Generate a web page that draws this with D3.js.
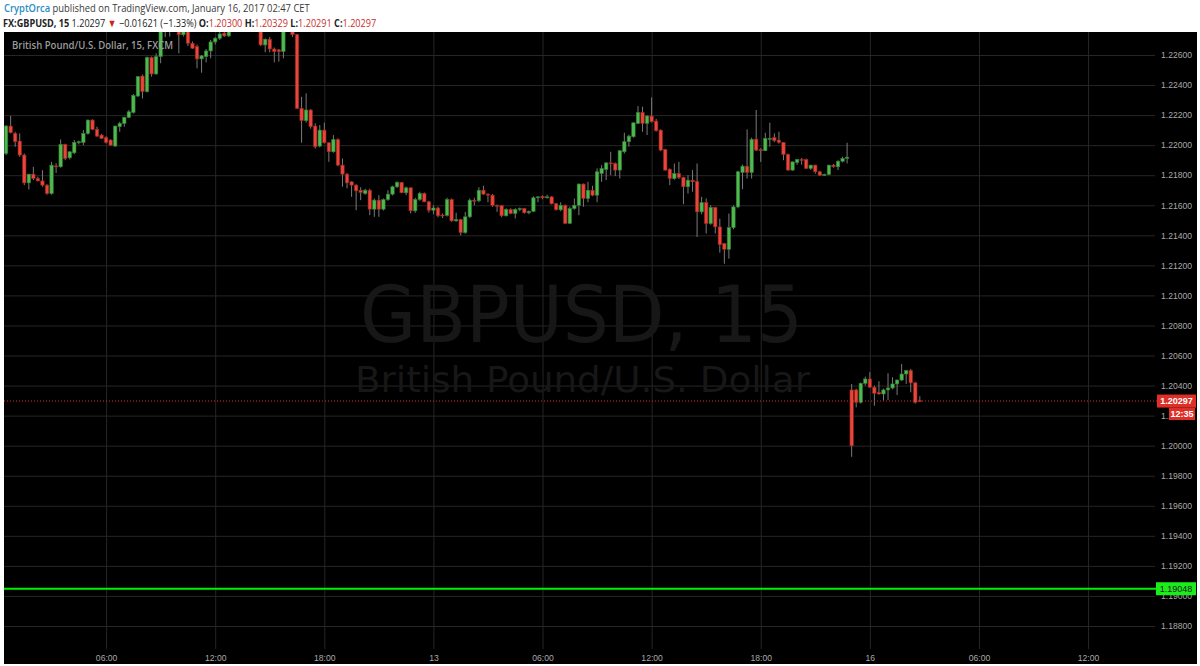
<!DOCTYPE html>
<html>
<head>
<meta charset="utf-8">
<script src="https://cdn.jsdelivr.net/npm/d3@7"></script>
<style>
    body { margin: 0; background: #fff; }
    svg { display: block; }
</style>
</head>
<body>
<svg id="chart" width="1200" height="666"></svg>
<script>
//Datos: velas de 15 minutos [open, high, low, close]
//Índice de barra: 0 = 12 ene 00:00, 96 = 13 ene 00:00, 192 = 16 ene 00:00 (fin de semana omitido)
const startJan12 = 2, startJan13 = 96, startJan16 = 188;

const barsJan12 = [
    [1.21945,1.22134,1.21934,1.22127],[1.22127,1.22194,1.22078,1.22083],[1.22078,1.22089,1.21989,1.22023],
    [1.22027,1.22078,1.21922,1.21934],[1.21934,1.21945,1.21734,1.21749],[1.21749,1.21807,1.21705,1.21807],
    [1.21807,1.21856,1.21767,1.21778],[1.21778,1.21790,1.21760,1.21762],[1.21762,1.21834,1.21723,1.21734],
    [1.21734,1.21740,1.21670,1.21678],[1.21678,1.21889,1.21670,1.21867],[1.21862,1.21880,1.21815,1.21860],
    [1.21856,1.22038,1.21850,1.22005],[1.22005,1.22010,1.21900,1.21911],[1.21916,1.21960,1.21905,1.21956],
    [1.21949,1.22034,1.21940,1.22018],[1.22018,1.22030,1.22005,1.22023],[1.22018,1.22100,1.22000,1.22078],
    [1.22078,1.22170,1.22070,1.22167],[1.22167,1.22172,1.22100,1.22105],[1.22105,1.22123,1.22056,1.22060],
    [1.22067,1.22075,1.22040,1.22045],[1.22051,1.22060,1.22010,1.22018],[1.22034,1.22040,1.21995,1.22000],
    [1.21994,1.22130,1.21990,1.22127],[1.22123,1.22156,1.22089,1.22145],[1.22145,1.22190,1.22123,1.22185],
    [1.22185,1.22234,1.22180,1.22222],[1.22218,1.22340,1.22210,1.22331],[1.22327,1.22460,1.22320,1.22456],
    [1.22460,1.22470,1.22311,1.22356],[1.22356,1.22590,1.22350,1.22583],[1.22583,1.22590,1.22456,1.22474],
    [1.22474,1.22611,1.22470,1.22589],[1.22589,1.22800,1.22545,1.22780],[1.22780,1.22850,1.22720,1.22820],
    [1.22820,1.22880,1.22723,1.22850],[1.22850,1.22900,1.22760,1.22830],[1.22830,1.22850,1.22611,1.22735],
    [1.22735,1.22780,1.22723,1.22770],[1.22770,1.22800,1.22660,1.22678],[1.22678,1.22690,1.22640,1.22645],
    [1.22656,1.22670,1.22511,1.22574],[1.22574,1.22600,1.22482,1.22594],[1.22589,1.22640,1.22551,1.22627],
    [1.22627,1.22700,1.22578,1.22687],[1.22687,1.22720,1.22670,1.22711],[1.22711,1.22760,1.22700,1.22740],
    [1.22745,1.22770,1.22720,1.22727],[1.22727,1.22780,1.22720,1.22765],[1.22765,1.22860,1.22758,1.22840],
    [1.22840,1.22900,1.22800,1.22880],[1.22880,1.22950,1.22850,1.22920],[1.22920,1.22960,1.22830,1.22860],
    [1.22860,1.22900,1.22790,1.22810],[1.22810,1.22840,1.22760,1.22780],[1.22780,1.22800,1.22660,1.22667],
    [1.22667,1.22710,1.22618,1.22705],[1.22705,1.22720,1.22618,1.22640],[1.22640,1.22650,1.22551,1.22623],
    [1.22634,1.22640,1.22556,1.22623],[1.22623,1.22780,1.22578,1.22770],[1.22770,1.22850,1.22762,1.22780],
    [1.22780,1.22800,1.22720,1.22735],[1.22735,1.22740,1.22240,1.22245],[1.22245,1.22322,1.22016,1.22163],
    [1.22163,1.22345,1.22150,1.22234],[1.22234,1.22240,1.22110,1.22123],[1.22127,1.22145,1.21978,1.21989],
    [1.21994,1.22134,1.21985,1.22100],[1.22100,1.22150,1.22010,1.22016],[1.22016,1.22020,1.21889,1.21956],
    [1.21956,1.22067,1.21950,1.22038],[1.22038,1.22045,1.21860,1.21867],[1.21867,1.21911,1.21723,1.21807],
    [1.21807,1.21815,1.21712,1.21749],[1.21756,1.21760,1.21656,1.21734],[1.21734,1.21740,1.21567,1.21696],
    [1.21700,1.21720,1.21634,1.21685],[1.21678,1.21710,1.21670,1.21700],[1.21700,1.21710,1.21534,1.21574],
    [1.21574,1.21645,1.21523,1.21634],[1.21634,1.21667,1.21523,1.21574],[1.21574,1.21645,1.21565,1.21638],
    [1.21638,1.21700,1.21630,1.21674],[1.21674,1.21730,1.21665,1.21723],[1.21723,1.21760,1.21715,1.21752],
    [1.21752,1.21755,1.21680,1.21683],[1.21683,1.21725,1.21667,1.21716],[1.21716,1.21720,1.21545,1.21563],
    [1.21563,1.21650,1.21550,1.21638],[1.21638,1.21690,1.21630,1.21678],[1.21678,1.21685,1.21620,1.21623],
    [1.21623,1.21630,1.21551,1.21567]
];

const barsJan13 = [
    [1.21567,1.21600,1.21540,1.21582],[1.21582,1.21590,1.21520,1.21530],[1.21535,1.21545,1.21515,1.21530],
    [1.21533,1.21650,1.21525,1.21638],[1.21638,1.21645,1.21490,1.21496],[1.21496,1.21550,1.21490,1.21505],
    [1.21505,1.21510,1.21400,1.21418],[1.21418,1.21556,1.21410,1.21523],[1.21523,1.21645,1.21515,1.21634],
    [1.21634,1.21650,1.21600,1.21630],[1.21630,1.21720,1.21620,1.21700],[1.21700,1.21730,1.21670,1.21674],
    [1.21674,1.21680,1.21620,1.21667],[1.21667,1.21675,1.21590,1.21600],[1.21600,1.21605,1.21556,1.21598],
    [1.21598,1.21600,1.21520,1.21530],[1.21530,1.21580,1.21525,1.21572],[1.21572,1.21580,1.21540,1.21545],
    [1.21545,1.21580,1.21512,1.21572],[1.21572,1.21585,1.21560,1.21578],[1.21578,1.21582,1.21545,1.21550],
    [1.21550,1.21565,1.21540,1.21560],[1.21560,1.21660,1.21555,1.21650],[1.21650,1.21660,1.21620,1.21656],
    [1.21660,1.21665,1.21640,1.21650],[1.21650,1.21670,1.21645,1.21656],[1.21656,1.21660,1.21605,1.21610],
    [1.21610,1.21615,1.21565,1.21570],[1.21570,1.21620,1.21560,1.21600],[1.21600,1.21605,1.21475,1.21480],
    [1.21480,1.21590,1.21475,1.21578],[1.21578,1.21645,1.21570,1.21600],[1.21600,1.21745,1.21534,1.21741],
    [1.21741,1.21745,1.21590,1.21645],[1.21645,1.21756,1.21620,1.21700],[1.21700,1.21730,1.21660,1.21667],
    [1.21667,1.21845,1.21620,1.21823],[1.21811,1.21867,1.21756,1.21845],[1.21838,1.21885,1.21767,1.21882],
    [1.21882,1.21956,1.21800,1.21880],[1.21878,1.21885,1.21794,1.21834],[1.21834,1.21967,1.21778,1.21963],
    [1.21956,1.22083,1.21945,1.22023],[1.22023,1.22070,1.21990,1.22060],[1.22056,1.22150,1.22050,1.22149],
    [1.22145,1.22260,1.22140,1.22218],[1.22218,1.22256,1.22089,1.22145],[1.22145,1.22200,1.22067,1.22194],
    [1.22194,1.22318,1.22150,1.22156],[1.22160,1.22175,1.22090,1.22096],[1.22100,1.22105,1.21960,1.21967],
    [1.21971,1.21975,1.21830,1.21834],[1.21840,1.21845,1.21734,1.21778],[1.21778,1.21878,1.21770,1.21811],
    [1.21811,1.21889,1.21775,1.21785],[1.21785,1.21790,1.21607,1.21723],[1.21723,1.21800,1.21678,1.21767],
    [1.21767,1.21834,1.21690,1.21756],[1.21760,1.21878,1.21389,1.21556],[1.21556,1.21656,1.21540,1.21618],
    [1.21618,1.21645,1.21412,1.21478],[1.21478,1.21600,1.21470,1.21585],[1.21585,1.21590,1.21412,1.21456],
    [1.21456,1.21511,1.21285,1.21338],[1.21345,1.21350,1.21211,1.21307],[1.21307,1.21545,1.21245,1.21451],
    [1.21451,1.21600,1.21440,1.21589],[1.21589,1.21830,1.21580,1.21823],[1.21818,1.21870,1.21707,1.21860],
    [1.21860,1.22105,1.21778,1.21818],[1.21818,1.22050,1.21778,1.22038],[1.22040,1.22234,1.21960,1.21967],
    [1.21971,1.21980,1.21889,1.21963],[1.21963,1.22083,1.21960,1.22045],[1.22045,1.22149,1.21990,1.22045],
    [1.22050,1.22078,1.22020,1.22030],[1.22034,1.22089,1.22010,1.22018],[1.22018,1.22020,1.21900,1.21938],
    [1.21938,1.21945,1.21830,1.21834],[1.21834,1.21890,1.21830,1.21889],[1.21885,1.21905,1.21870,1.21905],
    [1.21905,1.21915,1.21870,1.21900],[1.21905,1.21910,1.21840,1.21845],[1.21845,1.21870,1.21835,1.21867],
    [1.21867,1.21870,1.21810,1.21823],[1.21823,1.21830,1.21795,1.21800],[1.21800,1.21810,1.21795,1.21805],
    [1.21805,1.21870,1.21800,1.21867],[1.21867,1.21875,1.21850,1.21856],[1.21856,1.21900,1.21834,1.21893],
    [1.21893,1.21923,1.21885,1.21912],[1.21912,1.22016,1.21878,1.21920]
];

const barsJan16 = [
    [1.20371,1.20411,1.19926,1.19999],[1.20371,1.20380,1.20255,1.20289],[1.20289,1.20420,1.20280,1.20415],
    [1.20415,1.20460,1.20400,1.20444],[1.20444,1.20489,1.20385,1.20389],[1.20389,1.20400,1.20266,1.20349],
    [1.20355,1.20429,1.20340,1.20344],[1.20344,1.20380,1.20300,1.20371],[1.20371,1.20482,1.20304,1.20384],
    [1.20384,1.20455,1.20375,1.20411],[1.20411,1.20440,1.20337,1.20437],[1.20437,1.20544,1.20430,1.20477],
    [1.20477,1.20500,1.20411,1.20500],[1.20500,1.20511,1.20355,1.20418],[1.20418,1.20425,1.20280,1.20289],
    [1.20300,1.20329,1.20291,1.20297]
];

//Ejes
const priceTicks = [1.188,1.190,1.192,1.194,1.196,1.198,1.200,1.202,1.204,1.206,1.208,1.210,
    1.212,1.214,1.216,1.218,1.220,1.222,1.224,1.226];
const timeTicks = [24, 48, 72, 96, 120, 144, 168, 192, 216, 240];
const timeLabels = ['06:00','12:00','18:00','13','06:00','12:00','18:00','16','06:00','12:00'];

//Líneas horizontales y textos
const lastPrice = 1.20297;
const countdown = '12:35';
const supportLevel = 1.19048;

//Colores
const COLOR_UP = '#4fb84f', COLOR_UP_BORDER = '#2f7d32',
    COLOR_DOWN = '#e8453c', COLOR_DOWN_BORDER = '#9a2418',
    COLOR_WICK = '#7a7a7a', COLOR_GRID = '#262626',
    COLOR_AXIS_TEXT = '#a9a9a9', COLOR_PRICE = '#dd2f27';

//Unión de los datos con su índice de barra
let candles = [];
[[startJan12, barsJan12], [startJan13, barsJan13], [startJan16, barsJan16]].forEach(function(s) {
    s[1].forEach(function(b, i) {
        candles.push({idx: s[0] + i, o: b[0], h: b[1], l: b[2], c: b[3]});
    });
});

let plot = {left: 4, top: 32, right: 1154, bottom: 664};

let svg = d3.select('#chart');

let x = d3.scaleLinear()
    .domain([0, 240])
    .range([-3, -3 + 240 * 4.546]);

let y = d3.scaleLinear()
    .domain([1.188, 1.226])
    .range([626, 55]);

//Fondo negro
svg.append('rect')
    .attr('x', plot.left)
    .attr('y', plot.top)
    .attr('width', 1197 - plot.left)
    .attr('height', plot.bottom - plot.top)
    .attr('fill', '#000');

svg.append('defs').append('clipPath')
    .attr('id', 'clip')
    .append('rect')
        .attr('x', plot.left)
        .attr('y', plot.top)
        .attr('width', plot.right - plot.left)
        .attr('height', plot.bottom - plot.top);

//Rejilla horizontal + etiquetas de precio
let yAxis = d3.axisRight(y)
    .tickValues(priceTicks)
    .tickFormat(d3.format('.5f'))
    .tickSize(-(1155 - plot.left))
    .tickPadding(6);

svg.append('g')
    .attr('class', 'y-axis')
    .attr('transform', 'translate(1155,0)')
    .call(yAxis)
    .call(function(g) {
        g.select('.domain').remove();
        g.selectAll('.tick line').attr('stroke', COLOR_GRID);
        g.selectAll('.tick text')
            .attr('fill', COLOR_AXIS_TEXT)
            .style('font-family', 'Arial, "Liberation Sans", sans-serif')
            .style('font-size', '8.6px');
    });

//Rejilla vertical + etiquetas de tiempo
let xAxis = d3.axisBottom(x)
    .tickValues(timeTicks)
    .tickFormat(function(d, i) { return timeLabels[i]; })
    .tickSize(649 - plot.top)
    .tickPadding(6);

svg.append('g')
    .attr('class', 'x-axis')
    .attr('transform', 'translate(0,' + plot.top + ')')
    .call(xAxis)
    .call(function(g) {
        g.select('.domain').remove();
        g.selectAll('.tick line').attr('stroke', COLOR_GRID);
        g.selectAll('.tick text')
            .attr('fill', COLOR_AXIS_TEXT)
            .style('font-family', 'Arial, "Liberation Sans", sans-serif')
            .style('font-size', '8.6px');
    });

//Marca de agua
svg.append('text')
    .attr('x', 360)
    .attr('y', 342)
    .attr('textLength', 443)
    .attr('lengthAdjust', 'spacingAndGlyphs')
    .attr('fill', '#171717')
    .style('font-family', '"DejaVu Sans", Verdana, sans-serif')
    .style('font-size', '78px')
    .text('GBPUSD, 15');

svg.append('text')
    .attr('x', 355)
    .attr('y', 392)
    .attr('textLength', 455)
    .attr('lengthAdjust', 'spacingAndGlyphs')
    .attr('fill', '#171717')
    .style('font-family', '"DejaVu Sans", Verdana, sans-serif')
    .style('font-size', '35px')
    .text('British Pound/U.S. Dollar');

//Velas
let gCandles = svg.append('g').attr('clip-path', 'url(#clip)');

gCandles.selectAll('.wick')
    .data(candles)
    .enter()
    .append('line')
    .attr('class', 'wick')
    .attr('x1', function(d) { return x(d.idx); })
    .attr('x2', function(d) { return x(d.idx); })
    .attr('y1', function(d) { return y(d.h); })
    .attr('y2', function(d) { return y(d.l); })
    .attr('stroke', COLOR_WICK)
    .attr('stroke-width', 1);

gCandles.selectAll('.body')
    .data(candles)
    .enter()
    .append('rect')
    .attr('class', 'body')
    .attr('x', function(d) { return x(d.idx) - 1.7; })
    .attr('y', function(d) { return y(Math.max(d.o, d.c)); })
    .attr('width', 3.4)
    .attr('height', function(d) { return Math.max(1, Math.abs(y(d.o) - y(d.c))); })
    .attr('fill', function(d) { return d.c >= d.o ? COLOR_UP : COLOR_DOWN; })
    .attr('stroke', function(d) { return d.c >= d.o ? COLOR_UP_BORDER : COLOR_DOWN_BORDER; })
    .attr('stroke-width', 0.6);

//Línea de precio actual
svg.append('line')
    .attr('x1', plot.left)
    .attr('x2', 1157)
    .attr('y1', y(lastPrice))
    .attr('y2', y(lastPrice))
    .attr('stroke', COLOR_PRICE)
    .attr('stroke-width', 1)
    .attr('stroke-dasharray', '1,2');

svg.append('rect')
    .attr('x', 1157)
    .attr('y', y(lastPrice) - 6.5)
    .attr('width', 39)
    .attr('height', 13)
    .attr('fill', COLOR_PRICE);

svg.append('text')
    .attr('x', 1176.5)
    .attr('y', y(lastPrice) + 3.3)
    .attr('text-anchor', 'middle')
    .attr('fill', '#fff')
    .style('font-family', 'Arial, "Liberation Sans", sans-serif')
    .style('font-size', '9px')
    .style('font-weight', 'bold')
    .text(d3.format('.5f')(lastPrice));

svg.append('rect')
    .attr('x', 1169)
    .attr('y', y(lastPrice) + 6.5)
    .attr('width', 26)
    .attr('height', 12.5)
    .attr('fill', COLOR_PRICE);

svg.append('text')
    .attr('x', 1182)
    .attr('y', y(lastPrice) + 16)
    .attr('text-anchor', 'middle')
    .attr('fill', '#fff')
    .style('font-family', 'Arial, "Liberation Sans", sans-serif')
    .style('font-size', '9px')
    .style('font-weight', 'bold')
    .text(countdown);

//Línea verde horizontal
svg.append('line')
    .attr('x1', plot.left)
    .attr('x2', 1157)
    .attr('y1', y(supportLevel))
    .attr('y2', y(supportLevel))
    .attr('stroke', '#00f000')
    .attr('stroke-width', 2);

svg.append('rect')
    .attr('x', 1156)
    .attr('y', y(supportLevel) - 6.5)
    .attr('width', 40)
    .attr('height', 13)
    .attr('fill', '#1aee1a');

svg.append('text')
    .attr('x', 1176)
    .attr('y', y(supportLevel) + 3.3)
    .attr('text-anchor', 'middle')
    .attr('fill', '#1a1a1a')
    .style('font-family', 'Arial, "Liberation Sans", sans-serif')
    .style('font-size', '9px')
    .text(d3.format('.5f')(supportLevel));

//Título dentro del gráfico
svg.append('text')
    .attr('x', 12)
    .attr('y', 49)
    .attr('textLength', 161)
    .attr('lengthAdjust', 'spacingAndGlyphs')
    .attr('fill', '#9c9c9c')
    .style('font-family', '"Open Sans", sans-serif')
    .style('font-size', '11px')
    .style('font-weight', '600')
    .text('British Pound/U.S. Dollar, 15, FXCM');

//Cabecera (escalada en horizontal para imitar la fuente estrecha del original)
let header1 = svg.append('text')
    .attr('transform', 'translate(4,12) scale(0.855,1)')
    .style('font-family', '"Open Sans", sans-serif')
    .style('font-size', '11px');

header1.append('tspan').attr('fill', '#2b8cc4').style('font-weight', '600').text('CryptOrca');
header1.append('tspan').attr('fill', '#3a3a3a').text(' published on TradingView.com, January 16, 2017 02:47 CET');

let header2 = svg.append('text')
    .attr('transform', 'translate(3,26.5) scale(0.83,1)')
    .style('font-family', '"Open Sans", sans-serif')
    .style('font-size', '11px')
    .attr('fill', '#222');

header2.append('tspan').style('font-weight', '700').text('FX:GBPUSD, 15');
header2.append('tspan').text(' 1.20297 ');
header2.append('tspan').attr('fill', '#d0211b').text('▼');
header2.append('tspan').text(' −0.01621 (−1.33%) ');
header2.append('tspan').style('font-weight', '700').text('O:');
header2.append('tspan').attr('fill', '#c9302c').text('1.20300');
header2.append('tspan').style('font-weight', '700').text(' H:');
header2.append('tspan').attr('fill', '#c9302c').text('1.20329');
header2.append('tspan').style('font-weight', '700').text(' L:');
header2.append('tspan').attr('fill', '#c9302c').text('1.20291');
header2.append('tspan').style('font-weight', '700').text(' C:');
header2.append('tspan').attr('fill', '#c9302c').text('1.20297');
</script>
</body>
</html>
